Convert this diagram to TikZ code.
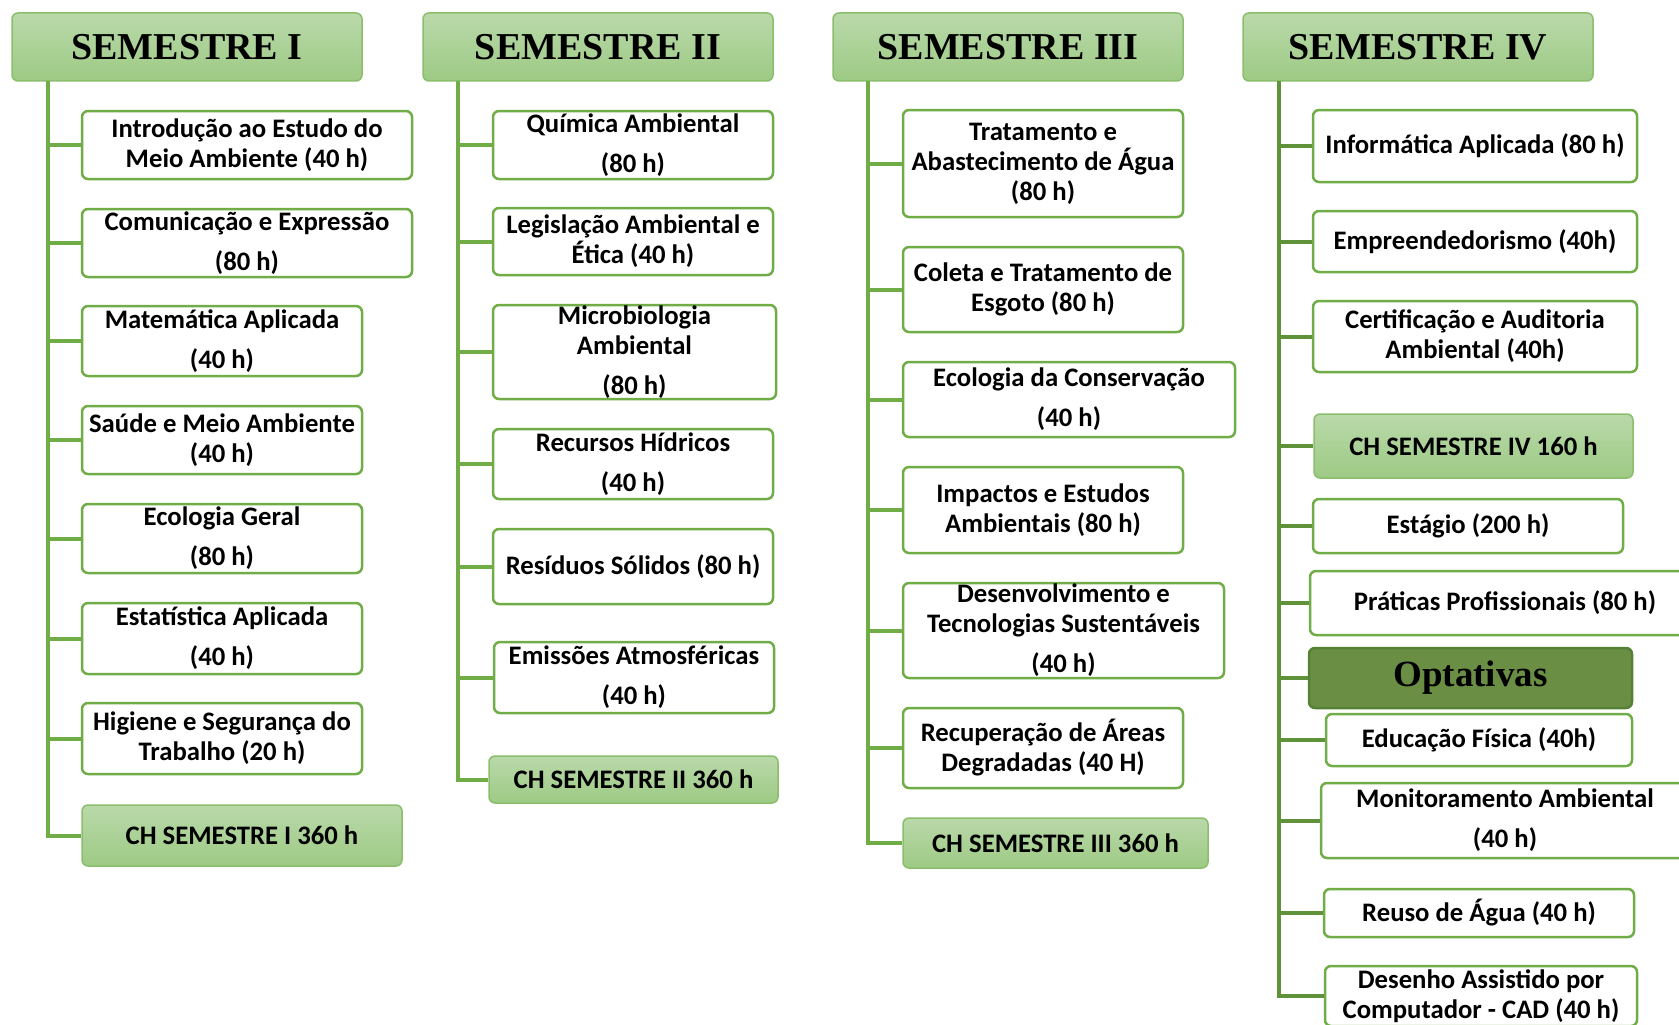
\documentclass[tikz,border=0pt]{standalone}
\usepackage{fontspec}
\setmainfont{Carlito}
\newfontfamily\hdrfont{Liberation Serif}
\usepackage{tikz}

\definecolor{hdrtop}{RGB}{186,217,170}
\definecolor{hdrbot}{RGB}{157,202,132}
\definecolor{hdrline}{RGB}{138,190,108}
\definecolor{boxline}{RGB}{112,173,71}
\definecolor{darkline}{RGB}{96,146,58}
\definecolor{optfill}{RGB}{106,142,68}
\definecolor{optline}{RGB}{84,130,53}

\begin{document}
\begin{tikzpicture}[x=1pt,y=-1pt]
      \tikzset { hdr/.style = { rounded corners=6pt, draw=hdrline, line width=1.5pt,
          top color=hdrtop, bottom color=hdrbot, inner sep=0pt,
          minimum width=350pt, minimum height=68pt,
          font=\hdrfont\bfseries\fontsize{38}{40}\selectfont } }
      \tikzset { course/.style = { rounded corners=6pt, draw=boxline, line width=2.5pt,
          fill=white, align=center, inner sep=0pt,
          font=\bfseries\fontsize{26.7}{30}\selectfont } }
      \tikzset { total/.style = { course, draw=hdrline, line width=1.5pt,
          top color=hdrtop, bottom color=hdrbot } }
      \tikzset { optbox/.style = { rounded corners=6pt, draw=optline, line width=2.5pt,
          fill=optfill, inner sep=0pt,
          font=\hdrfont\bfseries\fontsize{37}{40}\selectfont } }
      \tikzset { branch/.style = { draw=boxline, line width=4pt } }
      \tikzset { branchdark/.style = { draw=darkline, line width=4pt } }

      \useasboundingbox (0,0) rectangle (1679,1025);
      \clip (0,0) rectangle (1679,1025);

      % semestre I
      \node[hdr] (h1) at (187,47) {SEMESTRE I};
      \node[course, minimum width=330pt, minimum height=68pt] (c11) at (247,145) {Introdução ao Estudo do\\Meio Ambiente (40 h)};
      \node[course, minimum width=330pt, minimum height=68pt] (c12) at (247,243) {Comunicação e Expressão\\[10pt](80 h)};
      \node[course, minimum width=280pt, minimum height=70pt] (c13) at (222,341) {Matemática Aplicada\\[10pt](40 h)};
      \node[course, minimum width=280pt, minimum height=68pt] (c14) at (222,440) {Saúde e Meio Ambiente\\(40 h)};
      \node[course, minimum width=280pt, minimum height=69pt] (c15) at (222,538.5) {Ecologia Geral\\[10pt](80 h)};
      \node[course, minimum width=280pt, minimum height=71pt] (c16) at (222,638.5) {Estatística Aplicada\\[10pt](40 h)};
      \node[course, minimum width=280pt, minimum height=71pt] (c17) at (222,738.5) {Higiene e Segurança do\\Trabalho (20 h)};
      \node[total, minimum width=320pt, minimum height=61pt] (ch1) at (242,835.5) {CH SEMESTRE I 360 h};

      % semestre II
      \node[hdr] (h2) at (598,47) {SEMESTRE II};
      \node[course, minimum width=280pt, minimum height=68pt] (c21) at (633,145) {Química Ambiental\\[10pt](80 h)};
      \node[course, minimum width=280pt, minimum height=67pt] (c22) at (633,241.5) {Legislação Ambiental e\\Ética (40 h)};
      \node[course, minimum width=283pt, minimum height=94pt] (c23) at (634.5,352) {Microbiologia\\Ambiental\\[10pt](80 h)};
      \node[course, minimum width=280pt, minimum height=70pt] (c24) at (633,464) {Recursos Hídricos\\[10pt](40 h)};
      \node[course, minimum width=280pt, minimum height=75pt] (c25) at (633,566.5) {Resíduos Sólidos (80 h)};
      \node[course, minimum width=280pt, minimum height=71pt] (c26) at (634,677.5) {Emissões Atmosféricas\\[10pt](40 h)};
      \node[total, minimum width=289pt, minimum height=47pt] (ch2) at (633.5,779.5) {CH SEMESTRE II 360 h};

      % semestre III
      \node[hdr] (h3) at (1008,47) {SEMESTRE III};
      \node[course, minimum width=280pt, minimum height=107pt] (c31) at (1043,163.5) {Tratamento e\\Abastecimento de Água\\(80 h)};
      \node[course, minimum width=280pt, minimum height=85pt] (c32) at (1043,289.5) {Coleta e Tratamento de\\Esgoto (80 h)};
      \node[course, minimum width=332pt, minimum height=75pt] (c33) at (1069,399.5) {Ecologia da Conservação\\[10pt](40 h)};
      \node[course, minimum width=280pt, minimum height=86pt] (c34) at (1043,510) {Impactos e Estudos\\Ambientais (80 h)};
      \node[course, minimum width=321pt, minimum height=95pt] (c35) at (1063.5,630.5) {Desenvolvimento e\\Tecnologias Sustentáveis\\[10pt](40 h)};
      \node[course, minimum width=280pt, minimum height=80pt] (c36) at (1043,748) {Recuperação de Áreas\\Degradadas (40 H)};
      \node[total, minimum width=305pt, minimum height=50pt] (ch3) at (1055.5,843) {CH SEMESTRE III 360 h};

      % semestre IV
      \node[hdr] (h4) at (1418,47) {SEMESTRE IV};
      \node[course, minimum width=324pt, minimum height=72pt] (c41) at (1475,146) {Informática Aplicada (80 h)};
      \node[course, minimum width=324pt, minimum height=61pt] (c42) at (1475,241.5) {Empreendedorismo (40h)};
      \node[course, minimum width=324pt, minimum height=71pt] (c43) at (1475,336.5) {Certificação e Auditoria\\Ambiental (40h)};
      \node[total, minimum width=319pt, minimum height=64pt] (ch4) at (1473.5,446) {CH SEMESTRE IV 160 h};
      \node[course, minimum width=310pt, minimum height=54pt] (c44) at (1468,526) {Estágio (200 h)};
      \node[course, minimum width=390pt, minimum height=64pt] (c45) at (1505,603) {Práticas Profissionais (80 h)};
      \node[optbox, minimum width=323pt, minimum height=60pt] (opt) at (1470.5,678) {Optativas};
      \node[course, minimum width=306pt, minimum height=52pt] (c46) at (1479,740) {Educação Física (40h)};
      \node[course, minimum width=368pt, minimum height=75pt] (c47) at (1505,820.5) {Monitoramento Ambiental\\[10pt](40 h)};
      \node[course, minimum width=310pt, minimum height=48pt] (c48) at (1479,913) {Reuso de Água (40 h)};
      \node[course, minimum width=312pt, minimum height=60pt] (c49) at (1481,996) {Desenho Assistido por\\Computador - CAD (40 h)};

      % trunks and branches
      \coordinate (t1) at (48,81);
      \coordinate (t2) at (458,81);
      \coordinate (t3) at (868,81);
      \coordinate (t4) at (1279,81);

      \draw[branch] (t1) |- (ch1.west);
      \foreach \n in {c11,c12,c13,c14,c15,c16,c17}
        \draw[branch] (t1 |- \n.west) -- (\n.west);

      \draw[branch] (t2) |- (ch2.west);
      \foreach \n in {c21,c22,c23,c24,c25,c26}
        \draw[branch] (t2 |- \n.west) -- (\n.west);

      \draw[branch] (t3) |- (ch3.west);
      \foreach \n in {c31,c32,c33,c34,c35,c36}
        \draw[branch] (t3 |- \n.west) -- (\n.west);

      \draw[branchdark] (t4) |- (c49.west);
      \foreach \n in {c41,c42,c43,ch4,c44,c45,opt,c46,c47,c48}
        \draw[branchdark] (t4 |- \n.west) -- (\n.west);

    \end{tikzpicture}
\end{document}
